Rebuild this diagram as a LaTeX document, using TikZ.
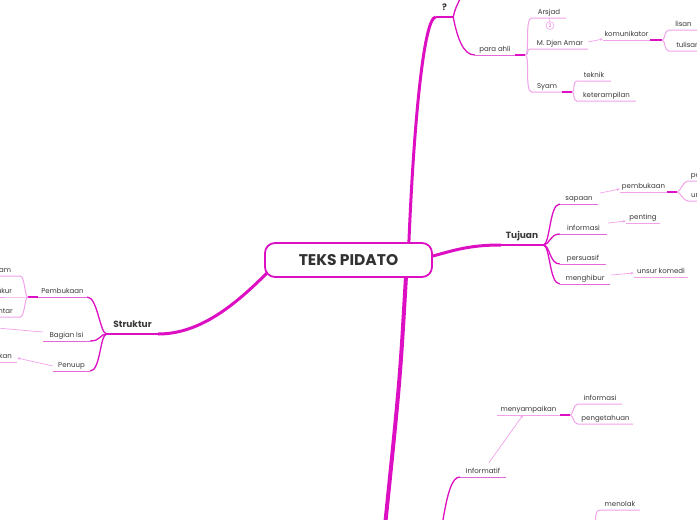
\documentclass[tikz,border=0pt]{standalone}
\usepackage{fontspec}
\setmainfont{Poppins}
\usetikzlibrary{arrows.meta,positioning,backgrounds}
\definecolor{mag}{HTML}{DC10C2}
\definecolor{magmid}{HTML}{E668D8}
\definecolor{pinklt}{HTML}{F2A2EA}
\definecolor{ink}{HTML}{383838}

\tikzset{
  topic/.style={anchor=south, inner xsep=0pt, inner ysep=2pt, text height=5.2pt,
    text depth=1.8pt, text=ink, font=\fontsize{7}{8}\selectfont},
  head/.style={topic, inner ysep=5pt, text height=6.8pt, font=\bfseries\fontsize{9}{10}\selectfont},
  trunk/.style={draw=mag, line width=3pt},
  br/.style={draw=mag, line width=1.3pt},
  sub/.style={draw=pinklt, line width=1pt},
  under/.style={draw=pinklt, line width=1pt},
  underm/.style={draw=magmid, line width=1pt},
  knot/.style={draw=mag, line width=1.6pt},
  rel/.style={draw=pinklt, line width=0.7pt, -{Stealth[length=3pt,width=2.6pt]}},
  badge/.style={draw=pinklt, circle, inner sep=0pt, minimum size=8pt, line width=0.6pt,
    text=mag!70, font=\fontsize{5}{5}\selectfont},
  twig/.style={to path={.. controls +(#1,0) and +({-1.5*#1},0) .. (\tikztotarget)}},
  twig/.default=5,
  twigl/.style={to path={.. controls +(-#1,0) and +({1.5*#1},0) .. (\tikztotarget)}},
  twigl/.default=5
}

\begin{document}
\begin{tikzpicture}[x=1pt, y=-1pt]
  \useasboundingbox (0,0) rectangle (697,520);
  \clip (0,0) rectangle (697,520);

  % central topic
  \node[draw=mag, line width=1.8pt, fill=white, rounded corners=10pt, minimum width=167pt,
    minimum height=34pt, text=ink!90!black, font=\bfseries\fontsize{15.5}{17}\selectfont]
    (root) at (348.5,260) {TEKS PIDATO};

  % ? branch
  \node[head, minimum width=17pt] (q) at (444.5,17) {?};
  \node[topic, minimum width=40pt] (ahli) at (495,55) {para ahli};
  \node[topic, minimum width=34pt] (arsjad) at (549,18) {Arsjad};
  \node[badge] (nb) at (550,25.5) {2};
  \node[topic, minimum width=56pt] (djen) at (560,49) {M. Djen Amar};
  \node[topic, minimum width=30pt] (syam) at (547,92) {Syam};
  \node[topic, minimum width=34pt] (teknik) at (594,81) {teknik};
  \node[topic, minimum width=59pt] (terampil) at (606.5,101) {keterampilan};
  \node[topic, minimum width=47pt] (komu) at (626.5,40) {komunikator};
  \node[topic, minimum width=29pt] (lisan) at (683.5,30) {lisan};
  \node[topic, minimum width=38pt] (tulisan) at (688,51) {tulisan};
  \coordinate (qup) at (461,-3);

  % Tujuan branch
  \node[head, minimum width=42pt] (tujuan) at (522,245) {Tujuan};
  \node[topic, minimum width=38pt] (sapaan) at (579,204) {sapaan};
  \node[topic, minimum width=47pt] (informasi) at (583.5,234) {informasi};
  \node[topic, minimum width=46pt] (persuasif) at (583,264) {persuasif};
  \node[topic, minimum width=50pt] (hibur) at (585,284) {menghibur};
  \node[topic, minimum width=47pt] (buka) at (643.5,192) {pembukaan};
  \node[topic, minimum width=34pt] (penting) at (643,223) {penting};
  \node[topic, minimum width=54pt] (komedi) at (661,277) {unsur komedi};
  \node[topic, minimum width=15pt] (pe) at (695.5,181) {pe};
  \node[topic, minimum width=15pt] (un) at (695.5,201) {un};

  % Struktur branch
  \node[head, minimum width=51pt] (struktur) at (132.5,334) {Struktur};
  \node[topic, minimum width=49pt] (pembukaan) at (62.5,297) {Pembukaan};
  \node[topic, minimum width=47pt] (isi) at (66.5,341) {Bagian Isi};
  \node[topic, minimum width=37pt] (penuup) at (71.5,371) {Penuup};
  \node[topic, minimum width=30pt] (am) at (5,276) {am};
  \node[topic, minimum width=47pt] (ukur) at (4.5,297) {ukur};
  \node[topic, minimum width=29pt] (ntar) at (5.5,317) {ntar};
  \node[topic, minimum width=23pt] (kan) at (5.5,362) {kan};
  \coordinate (isiout) at (-3,328);

  % bottom branch
  \node[topic, minimum width=46pt] (informatif) at (483,477) {Informatif};
  \node[topic, minimum width=63pt] (sampai) at (528.5,415) {menyampaikan};
  \node[topic, minimum width=44pt] (info) at (600,404) {informasi};
  \node[topic, minimum width=55pt] (tahu) at (605.5,424) {pengetahuan};
  \node[topic, minimum width=40pt] (tolak) at (620,510) {menolak};
  \coordinate (trunkend) at (385,526);
  \coordinate (infoin) at (442,526);
  \coordinate (tolakin) at (595,526);

  % main branches
  \begin{scope}[on background layer]
    \draw[trunk] ([xshift=-24pt]root.north east) .. controls (414,120) and (424,17) .. (q.south west);
    \draw[trunk] ([yshift=4pt]root.east) .. controls (455,250) and (470,245) .. (tujuan.south west);
    \draw[trunk] ([shift={(3pt,5pt)}]root.south west) .. controls (235,305) and (200,334) .. (struktur.south east);
    \draw[trunk, line width=4pt] ([xshift=-27pt]root.south east) .. controls (400,380) .. (trunkend);
  \end{scope}
  \draw[knot, line width=2pt] (q.south west) -- (q.south east);
  \draw[knot, line width=2pt] (tujuan.south west) -- (tujuan.south east);
  \draw[knot, line width=2pt] (struktur.south east) -- (struktur.south west);

  % ? children
  \draw[br] (q.south east) .. controls +(2,-8) .. (qup);
  \draw[br] (q.south east) .. controls +(4,20) and +(-12,0) .. (ahli.south west);
  \draw[underm] (ahli.south west) -- (ahli.south east);
  \draw[knot] (ahli.south east) -- ++(10,0) coordinate (ahliJ);
  \draw[sub] (ahliJ) to[twig] (arsjad.south west) -- (arsjad.south east);
  \draw[sub, line width=0.6pt] (arsjad.south) -- (nb);
  \draw[sub] (ahliJ) to[twig] (djen.south west) -- (djen.south east);
  \draw[sub] (ahliJ) to[twig] (syam.south west) -- (syam.south east);
  \draw[knot] (syam.south east) -- ++(10,0) coordinate (syamJ);
  \draw[sub] (syamJ) to[twig=3] (teknik.south west) -- (teknik.south east);
  \draw[sub] (syamJ) to[twig=3] (terampil.south west) -- (terampil.south east);
  \draw[rel] ([yshift=7pt]djen.south east) -- ([yshift=1pt]komu.south west);
  \draw[under] (komu.south west) -- (komu.south east);
  \draw[knot] (komu.south east) -- ++(12,0) coordinate (komuJ);
  \draw[sub] (komuJ) to[twig=3] (lisan.south west) -- (lisan.south east);
  \draw[sub] (komuJ) to[twig=3] (tulisan.south west) -- (tulisan.south east);

  % Tujuan children
  \foreach \k in {sapaan,informasi,persuasif,hibur} {
    \draw[br] (tujuan.south east) to[twig=7] (\k.south west);
    \draw[underm] (\k.south west) -- (\k.south east);
  }
  \draw[rel] ([shift={(2pt,11pt)}]sapaan.south east) -- ([yshift=3pt]buka.south west);
  \draw[under] (buka.south west) -- (buka.south east);
  \draw[knot] (buka.south east) -- ++(10,0) coordinate (bukaJ);
  \draw[sub] (bukaJ) to[twig=3] (pe.south west) -- (pe.south east);
  \draw[sub] (bukaJ) to[twig=3] (un.south west) -- (un.south east);
  \draw[rel] ([shift={(1pt,11pt)}]informasi.south east) -- ([yshift=2pt]penting.south west);
  \draw[under] (penting.south west) -- (penting.south east);
  \draw[rel] ([shift={(1pt,9pt)}]hibur.south east) -- ([yshift=4pt]komedi.south west);
  \draw[under] (komedi.south west) -- (komedi.south east);

  % Struktur children
  \foreach \k in {pembukaan,isi,penuup} {
    \draw[br] (struktur.south west) to[twigl=7] (\k.south east);
    \draw[underm] (\k.south east) -- (\k.south west);
  }
  \draw[knot] (pembukaan.south west) -- ++(-10,0) coordinate (pembJ);
  \draw[sub] (pembJ) to[twigl=3] (am.south east) -- (am.south west);
  \draw[sub] (pembJ) -- (ukur.south east) -- (ukur.south west);
  \draw[sub] (pembJ) to[twigl=3] (ntar.south east) -- (ntar.south west);
  \draw[rel, -] ([yshift=9pt]isi.south west) -- (isiout);
  \draw[rel] ([yshift=5pt]penuup.south west) -- ([yshift=4pt]kan.south east);
  \draw[under] (kan.south east) -- (kan.south west);

  % Informatif
  \draw[br] (infoin) .. controls +(5,-32) and +(-8,0) .. (informatif.south west);
  \draw[underm] (informatif.south west) -- (informatif.south east);
  \draw[rel] ([shift={(6pt,3pt)}]informatif.north) -- ([xshift=-5.5pt]sampai.south);
  \draw[under] (sampai.south west) -- (sampai.south east);
  \draw[knot] (sampai.south east) -- ++(10,0) coordinate (sampaiJ);
  \draw[sub] (sampaiJ) to[twig=3] (info.south west) -- (info.south east);
  \draw[sub] (sampaiJ) to[twig=3] (tahu.south west) -- (tahu.south east);
  \draw[sub] (tolakin) .. controls +(1,-8) and +(-5,0) .. (tolak.south west) -- (tolak.south east);
\end{tikzpicture}
\end{document}
